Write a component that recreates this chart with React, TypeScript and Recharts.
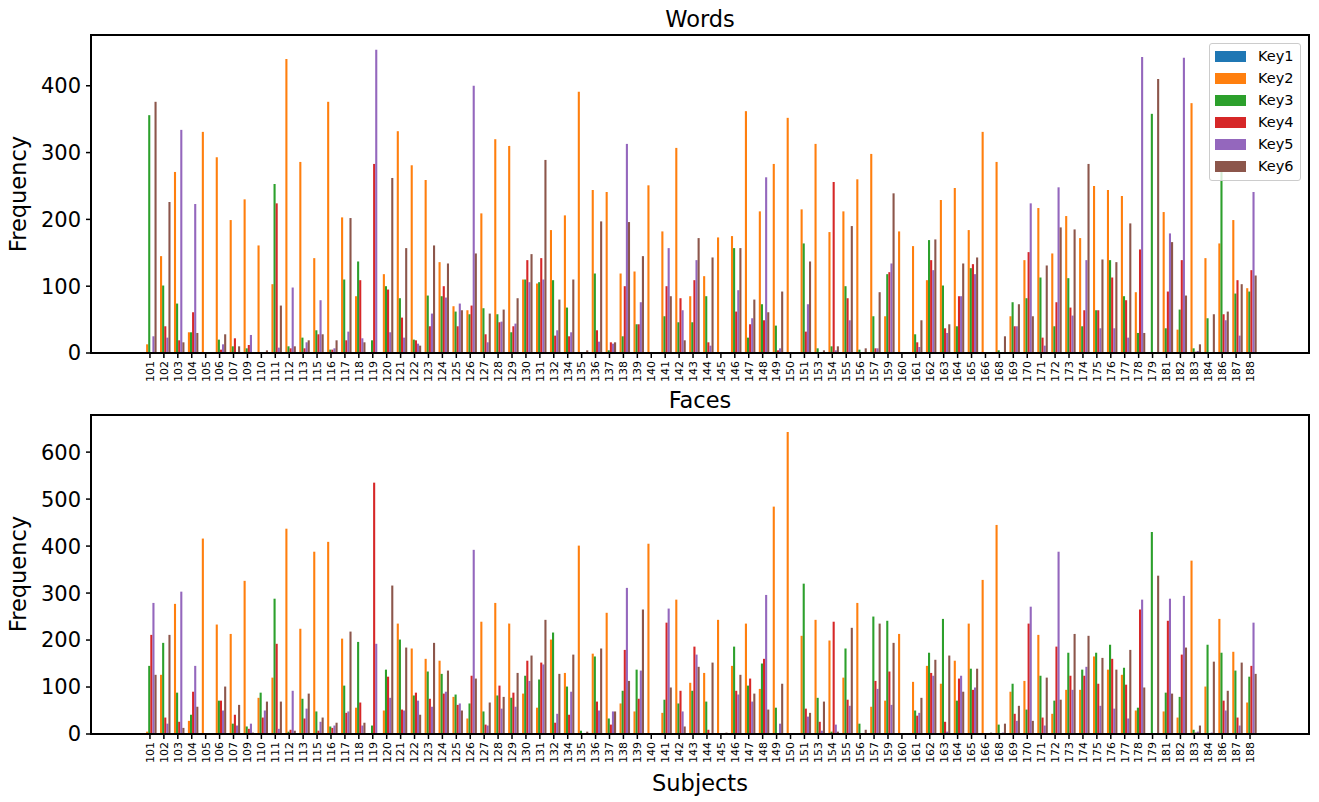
import React from 'react';
import { BarChart, Bar, XAxis, YAxis } from 'recharts';

const subjects = [
  '101', '102', '103', '104', '105', '106', '107', '109', '110', '111', '112', '113', '115', '116', '117', '118',
  '119', '120', '121', '122', '123', '124', '125', '126', '127', '128', '129', '130', '131', '132', '134', '135',
  '136', '137', '138', '139', '140', '141', '142', '143', '144', '145', '146', '147', '148', '149', '150', '151',
  '153', '154', '155', '156', '157', '159', '160', '161', '162', '163', '164', '165', '166', '168', '169', '170',
  '171', '172', '173', '174', '175', '176', '177', '178', '179', '181', '182', '183', '184', '186', '187', '188',
];

const keyNames = ['Key1', 'Key2', 'Key3', 'Key4', 'Key5', 'Key6'];
const keyColors = ['#1f77b4', '#ff7f0e', '#2ca02c', '#d62728', '#9467bd', '#8c564b'];

const wordsTicks = [0, 100, 200, 300, 400];
const facesTicks = [0, 100, 200, 300, 400, 500, 600];

// ---------- Words ----------
const wordsKey1 = [
  0, 0, 0, 0, 0, 0, 0, 0, 0, 0, 0, 0, 0, 0, 0, 0, 0, 0, 0, 0, 0, 0, 0, 0, 0, 0, 0, 0, 0, 0, 0, 0, 0, 0, 0, 0, 0, 0, 0, 0,
  0, 0, 0, 0, 0, 0, 0, 0, 0, 0, 0, 0, 0, 0, 0, 0, 0, 0, 0, 0, 0, 0, 0, 0, 0, 0, 0, 0, 0, 0, 0, 0, 0, 0, 0, 0, 0, 0, 0, 0,
];
const wordsKey2 = [
  13, 145, 271, 31, 331, 293, 199, 230, 161, 103, 440, 286, 142, 376, 203, 85, 0, 118, 332, 281,
  259, 136, 70, 64, 209, 320, 310, 110, 104, 184, 206, 391, 244, 241, 119, 122, 251, 182, 307, 85,
  115, 173, 175, 362, 212, 283, 352, 215, 313, 181, 212, 260, 298, 55, 182, 160, 109, 229, 247, 184,
  331, 286, 55, 139, 217, 149, 205, 172, 250, 244, 235, 91, 0, 211, 35, 374, 142, 164, 199, 97,
];
const wordsKey3 = [
  356, 101, 74, 31, 0, 20, 10, 7, 0, 253, 10, 23, 34, 5, 110, 137, 19, 100, 82, 20,
  86, 85, 62, 58, 67, 58, 31, 110, 106, 109, 68, 0, 119, 4, 25, 43, 0, 55, 46, 46,
  85, 0, 157, 23, 73, 41, 0, 164, 7, 10, 100, 5, 55, 118, 0, 28, 169, 101, 40, 127,
  0, 4, 76, 82, 113, 40, 112, 40, 64, 139, 85, 30, 358, 37, 65, 7, 52, 271, 89, 92,
];
const wordsKey4 = [
  0, 40, 19, 61, 0, 5, 22, 12, 0, 224, 7, 7, 28, 5, 19, 109, 283, 95, 53, 19,
  40, 100, 40, 71, 28, 46, 40, 139, 142, 26, 25, 0, 34, 16, 100, 43, 0, 100, 82, 109,
  16, 0, 62, 43, 49, 4, 0, 32, 0, 256, 82, 0, 7, 121, 0, 16, 139, 37, 85, 133,
  0, 0, 40, 151, 23, 76, 68, 64, 64, 113, 79, 155, 0, 92, 139, 2, 0, 58, 109, 124,
];
const wordsKey5 = [
  25, 23, 334, 223, 0, 13, 0, 27, 0, 8, 98, 16, 79, 7, 32, 22, 454, 31, 23, 14,
  59, 83, 74, 400, 16, 47, 44, 106, 110, 34, 31, 0, 17, 14, 313, 76, 0, 157, 64, 139,
  11, 0, 94, 52, 263, 7, 0, 73, 0, 4, 49, 0, 7, 134, 0, 9, 124, 30, 85, 118,
  0, 0, 40, 224, 11, 248, 56, 139, 37, 37, 23, 443, 0, 179, 442, 3, 0, 49, 26, 241,
];
const wordsKey6 = [
  376, 226, 16, 30, 0, 28, 10, 0, 4, 71, 10, 19, 28, 19, 202, 16, 0, 262, 157, 11,
  161, 134, 64, 149, 59, 65, 82, 148, 289, 80, 110, 4, 197, 16, 196, 145, 0, 85, 19, 172,
  143, 0, 157, 80, 61, 92, 0, 137, 4, 10, 190, 7, 91, 239, 0, 49, 170, 43, 134, 143,
  0, 25, 73, 55, 131, 188, 185, 283, 140, 136, 194, 30, 410, 166, 86, 13, 58, 62, 103, 116,
];

// ---------- Faces ----------
const facesKey1 = [
  0, 0, 0, 0, 0, 0, 0, 0, 0, 0, 0, 0, 0, 0, 0, 0, 0, 0, 0, 0, 0, 0, 0, 0, 0, 0, 0, 0, 0, 0, 0, 0, 0, 0, 0, 0, 0, 0, 0, 0,
  0, 0, 0, 0, 0, 0, 0, 0, 0, 0, 0, 0, 0, 0, 0, 0, 0, 0, 0, 0, 0, 0, 0, 0, 0, 0, 0, 0, 0, 0, 0, 0, 0, 0, 0, 0, 0, 0, 0, 0,
];
const facesKey2 = [
  5, 126, 277, 28, 416, 233, 213, 326, 77, 120, 437, 224, 388, 409, 203, 56, 0, 50, 235, 182,
  160, 156, 79, 33, 239, 279, 235, 86, 56, 201, 130, 401, 171, 258, 65, 48, 405, 45, 286, 109,
  130, 243, 145, 235, 96, 484, 643, 209, 243, 199, 120, 279, 58, 71, 213, 111, 145, 107, 156, 235,
  328, 445, 90, 113, 211, 43, 94, 94, 165, 137, 126, 50, 0, 48, 35, 369, 101, 245, 175, 67,
];
const facesKey3 = [
  145, 194, 88, 41, 0, 71, 22, 16, 88, 288, 5, 75, 48, 16, 103, 196, 18, 137, 201, 82,
  133, 128, 84, 65, 48, 82, 77, 124, 116, 216, 101, 7, 165, 33, 92, 137, 0, 73, 65, 92,
  69, 0, 186, 103, 150, 56, 0, 320, 77, 5, 182, 22, 250, 241, 0, 50, 173, 245, 71, 139,
  0, 20, 107, 52, 124, 71, 173, 137, 173, 190, 141, 56, 430, 88, 79, 9, 190, 173, 135, 122,
];
const facesKey4 = [
  211, 35, 26, 90, 0, 71, 41, 11, 35, 192, 9, 33, 7, 13, 45, 67, 535, 122, 52, 88,
  75, 86, 62, 124, 20, 103, 88, 156, 152, 24, 41, 0, 69, 20, 179, 75, 0, 237, 92, 186,
  9, 0, 92, 118, 160, 0, 0, 54, 26, 239, 73, 0, 113, 133, 0, 39, 130, 26, 118, 94,
  0, 0, 43, 235, 35, 186, 124, 124, 107, 160, 105, 265, 0, 241, 169, 3, 0, 71, 35, 145,
];
const facesKey5 = [
  279, 22, 303, 145, 0, 50, 18, 22, 50, 11, 92, 54, 26, 18, 48, 18, 192, 77, 50, 71,
  58, 90, 65, 392, 18, 54, 58, 113, 148, 43, 90, 0, 50, 48, 311, 135, 0, 267, 48, 169,
  0, 0, 84, 69, 296, 22, 0, 37, 7, 20, 60, 0, 96, 62, 0, 45, 124, 5, 124, 99,
  0, 3, 28, 271, 18, 388, 94, 143, 60, 54, 33, 286, 0, 288, 294, 5, 3, 50, 18, 237,
];
const facesKey6 = [
  126, 211, 13, 58, 0, 101, 62, 3, 69, 69, 7, 86, 35, 24, 218, 24, 0, 316, 184, 41,
  194, 135, 50, 118, 67, 79, 130, 167, 243, 128, 169, 5, 182, 48, 113, 265, 0, 99, 16, 143,
  152, 3, 126, 86, 52, 107, 0, 45, 69, 5, 226, 9, 235, 194, 0, 77, 158, 167, 90, 139,
  3, 22, 60, 28, 120, 73, 213, 209, 162, 137, 179, 99, 337, 86, 184, 18, 154, 92, 152, 128,
];

const buildRows = (series: number[][]) =>
  subjects.map((s, i) => {
    const row: Record<string, string | number> = { subject: s };
    keyNames.forEach((k, j) => {
      row[k] = series[j][i];
    });
    return row;
  });

const wordsData = buildRows([wordsKey1, wordsKey2, wordsKey3, wordsKey4, wordsKey5, wordsKey6]);
const facesData = buildRows([facesKey1, facesKey2, facesKey3, facesKey4, facesKey5, facesKey6]);

const FONT = '"DejaVu Sans", Verdana, sans-serif';

function XTick(props: any) {
  const { x, y, payload } = props;
  return (
    <g transform={`translate(${x},${y})`}>
      <text transform="rotate(-90)" x={0} y={0} dy="0.35em" textAnchor="end" fontSize={11} fill="#000" fontFamily={FONT}>
        {payload.value}
      </text>
    </g>
  );
}

type PanelProps = {
  data: Record<string, string | number>[];
  top: number;
  height: number;
  margin: { top: number; right: number; bottom: number; left: number };
  yMax: number;
  yTicks: number[];
};

function Panel({ data, top, height, margin, yMax, yTicks }: PanelProps) {
  const pad = { left: 52, right: 52 };
  return (
    <div style={{ position: 'absolute', left: 0, top }}>
      <BarChart width={1319} height={height} data={data} margin={margin} barSize={2.1} barGap={0} barCategoryGap={0}>
        <XAxis
          dataKey="subject"
          interval={0}
          tick={<XTick />}
          tickSize={5}
          tickMargin={3}
          tickLine={{ stroke: '#000', strokeWidth: 1.5 }}
          axisLine={{ stroke: '#000', strokeWidth: 2 }}
          padding={pad}
          height={40}
        />
        <YAxis
          domain={[0, yMax]}
          ticks={yTicks}
          allowDataOverflow
          width={91}
          tickSize={5}
          tickMargin={5}
          tick={{ fontSize: 21, fill: '#000', fontFamily: FONT }}
          tickLine={{ stroke: '#000', strokeWidth: 1.5 }}
          axisLine={{ stroke: '#000', strokeWidth: 2 }}
        />
        {keyNames.map((k, i) => (
          <Bar key={k} dataKey={k} fill={keyColors[i]} isAnimationActive={false} />
        ))}
      </BarChart>
    </div>
  );
}

const textStyle: React.CSSProperties = {
  position: 'absolute',
  fontFamily: FONT,
  color: '#000',
  whiteSpace: 'nowrap',
  transform: 'translate(-50%, -50%)',
  lineHeight: 1,
};

const frameStyle: React.CSSProperties = {
  position: 'absolute',
  left: 90,
  width: 1220,
  boxSizing: 'border-box',
  border: '2px solid #000',
  pointerEvents: 'none',
};

export default function App() {
  return (
    <div style={{ position: 'absolute', left: 0, top: 0, width: 1319, height: 802, background: '#fff', fontFamily: FONT }}>
      <Panel data={wordsData} top={0} height={400} margin={{ top: 35, right: 10, bottom: 7, left: 0 }} yMax={476} yTicks={wordsTicks} />
      <Panel data={facesData} top={400} height={402} margin={{ top: 15, right: 10, bottom: 28, left: 0 }} yMax={679} yTicks={facesTicks} />

      <div style={{ ...frameStyle, top: 34, height: 320 }} />
      <div style={{ ...frameStyle, top: 414, height: 321 }} />

      <div style={{ ...textStyle, left: 700, top: 19, fontSize: 22.5 }}>Words</div>
      <div style={{ ...textStyle, left: 700, top: 400, fontSize: 22.5 }}>Faces</div>
      <div style={{ ...textStyle, left: 700, top: 783, fontSize: 22.5 }}>Subjects</div>
      <div style={{ ...textStyle, left: 18, top: 194, fontSize: 22.5, transform: 'translate(-50%, -50%) rotate(-90deg)' }}>Frequency</div>
      <div style={{ ...textStyle, left: 18, top: 574, fontSize: 22.5, transform: 'translate(-50%, -50%) rotate(-90deg)' }}>Frequency</div>

      <div
        style={{
          position: 'absolute',
          left: 1209,
          top: 43,
          width: 92,
          height: 138,
          boxSizing: 'border-box',
          border: '1px solid #cccccc',
          borderRadius: 3,
          background: 'rgba(255,255,255,0.8)',
        }}
      >
        {keyNames.map((k, i) => (
          <div key={k} style={{ position: 'absolute', left: 5, top: 6 + i * 22, height: 12, display: 'flex', alignItems: 'center' }}>
            <div style={{ width: 31, height: 11, background: keyColors[i] }} />
            <span style={{ marginLeft: 12, fontSize: 14.5, fontFamily: FONT, color: '#000', lineHeight: 1 }}>{k}</span>
          </div>
        ))}
      </div>
    </div>
  );
}
